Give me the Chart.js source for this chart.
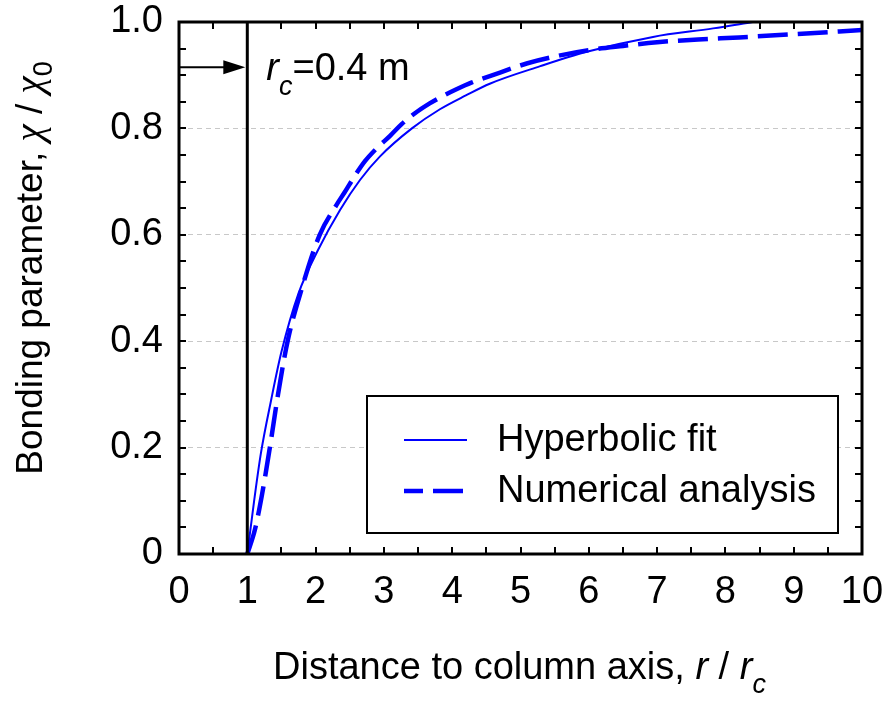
<!DOCTYPE html>
<html>
<head>
<meta charset="utf-8">
<script src="https://cdn.jsdelivr.net/npm/chart.js@4.4.1/dist/chart.umd.min.js"></script>
<style>
  html, body { margin: 0; padding: 0; background: #fff; }
  canvas { display: block; }
</style>
</head>
<body>
<canvas id="chart" width="887" height="702"></canvas>
<script>
// hyperbolic fit
const fitR   = [1, 1.1, 1.2, 1.35, 1.5, 1.75, 2.03, 2.36, 2.65, 2.94, 3.41, 3.82, 4.2, 4.55, 5.29, 5.97, 6.94, 7.82, 8.4];
const fitChi = [0, 0.10, 0.19, 0.29, 0.38, 0.49, 0.57, 0.647, 0.703, 0.747, 0.80, 0.836, 0.862, 0.884, 0.917, 0.944, 0.972, 0.988, 1.0];

// numerical analysis
const numR   = [1, 1.11, 1.21, 1.33, 1.45, 1.59, 1.8, 2.06, 2.3, 2.43, 2.58, 2.72, 2.89, 3.09, 3.26, 3.46, 3.67, 3.82, 4.07, 4.28, 4.7, 5.09, 5.5, 6, 6.5, 7, 7.6, 8.2, 9, 10];
const numChi = [0, 0.045, 0.108, 0.2, 0.3, 0.4, 0.5, 0.6, 0.655, 0.681, 0.712, 0.738, 0.762, 0.786, 0.808, 0.829, 0.847, 0.858, 0.874, 0.886, 0.905, 0.922, 0.935, 0.947, 0.955, 0.962, 0.967, 0.971, 0.977, 0.985];

const seriesNames = ['Hyperbolic fit', 'Numerical analysis'];
const xTicks = [0, 1, 2, 3, 4, 5, 6, 7, 8, 9, 10];
const yTicks = [0, 0.2, 0.4, 0.6, 0.8, 1.0];
const xMinorStep = 0.5;
const yMinorStep = 0.05;

const columnFace = 1;      // r / rc at the column edge
const arrowLevel = 0.915;  // height of the r_c arrow

const FONT = "'Liberation Sans', Arial, sans-serif";
const SERIF = "'Liberation Serif', 'Times New Roman', serif";
const BLUE = '#0000ff';

function toPoints(xs, ys) {
  return xs.map((x, i) => ({ x: x, y: ys[i] }));
}

// draw a row of text pieces with different fonts / offsets
function drawRuns(ctx, runs, x, y) {
  let cx = x;
  runs.forEach(r => {
    ctx.font = r.font;
    ctx.fillText(r.text, cx, y + (r.dy || 0));
    cx += ctx.measureText(r.text).width;
  });
}
function runsWidth(ctx, runs) {
  let w = 0;
  runs.forEach(r => { ctx.font = r.font; w += ctx.measureText(r.text).width; });
  return w;
}

const decor = {
  id: 'decor',
  afterDraw(chart) {
    const ctx = chart.ctx;
    const a = chart.chartArea;
    const xs = chart.scales.x, ys = chart.scales.y;
    ctx.save();
    ctx.strokeStyle = '#000';
    ctx.fillStyle = '#000';

    // inward tick marks on all four sides
    ctx.lineWidth = 2;
    ctx.beginPath();
    for (let v = xs.min; v <= xs.max + 1e-9; v += xMinorStep) {
      const px = Math.round(xs.getPixelForValue(v));
      ctx.moveTo(px, a.bottom); ctx.lineTo(px, a.bottom - 7);
      ctx.moveTo(px, a.top); ctx.lineTo(px, a.top + 7);
    }
    for (let v = ys.min; v <= ys.max + 1e-9; v += yMinorStep) {
      const py = Math.round(ys.getPixelForValue(v));
      ctx.moveTo(a.left, py); ctx.lineTo(a.left + 7, py);
      ctx.moveTo(a.right, py); ctx.lineTo(a.right - 7, py);
    }
    ctx.stroke();

    // frame
    ctx.lineWidth = 3;
    ctx.strokeRect(a.left, a.top, a.right - a.left, a.bottom - a.top);

    // column face line
    const cxp = xs.getPixelForValue(columnFace);
    ctx.beginPath();
    ctx.moveTo(cxp, a.bottom); ctx.lineTo(cxp, a.top);
    ctx.stroke();

    // arrow
    const ay = ys.getPixelForValue(arrowLevel);
    ctx.lineWidth = 2;
    ctx.beginPath();
    ctx.moveTo(a.left, ay); ctx.lineTo(cxp - 18, ay);
    ctx.stroke();
    ctx.beginPath();
    ctx.moveTo(cxp - 2, ay);
    ctx.lineTo(cxp - 24, ay - 7);
    ctx.lineTo(cxp - 24, ay + 7);
    ctx.closePath();
    ctx.fill();

    // r_c annotation
    ctx.textBaseline = 'alphabetic';
    ctx.textAlign = 'left';
    drawRuns(ctx, [
      { text: 'r', font: 'italic 38px ' + FONT },
      { text: 'c', font: 'italic 27px ' + FONT, dy: 15 },
      { text: '=0.4 m', font: '38px ' + FONT }
    ], cxp + 19, ay + 13);

    // legend
    const lx0 = 367, lx1 = a.right - 24, ly0 = 396, ly1 = a.bottom - 21;
    ctx.fillStyle = '#fff';
    ctx.fillRect(lx0, ly0, lx1 - lx0, ly1 - ly0);
    ctx.lineWidth = 2;
    ctx.strokeStyle = '#000';
    ctx.strokeRect(lx0, ly0, lx1 - lx0, ly1 - ly0);
    chart.data.datasets.forEach((ds, i) => {
      const yy = 440 + i * 51;
      ctx.strokeStyle = ds.borderColor;
      ctx.lineWidth = ds.borderWidth;
      ctx.setLineDash(ds.borderDash || []);
      ctx.lineDashOffset = ds.borderDash ? 11 : 0;
      ctx.beginPath();
      ctx.moveTo(404, yy); ctx.lineTo(467, yy);
      ctx.stroke();
      ctx.setLineDash([]);
      ctx.fillStyle = '#000';
      ctx.font = '38px ' + FONT;
      ctx.textBaseline = 'middle';
      ctx.fillText(ds.label, 497, yy + 1);
    });

    // x axis title
    ctx.fillStyle = '#000';
    ctx.textBaseline = 'alphabetic';
    drawRuns(ctx, [
      { text: 'Distance to column axis, ', font: '38px ' + FONT },
      { text: 'r', font: 'italic 38px ' + FONT },
      { text: ' / ', font: '38px ' + FONT },
      { text: 'r', font: 'italic 38px ' + FONT },
      { text: 'c', font: 'italic 27px ' + FONT, dy: 14 }
    ], 273, 679);

    // y axis title (rotated)
    const yRuns = [
      { text: 'Bonding parameter, ', font: '37px ' + FONT },
      { text: '\u03c7', font: 'italic 39px ' + SERIF },
      { text: ' / ', font: '37px ' + FONT },
      { text: '\u03c7', font: 'italic 39px ' + SERIF },
      { text: '0', font: '27px ' + FONT, dy: 10 }
    ];
    const w = runsWidth(ctx, yRuns);
    ctx.translate(42, 268);
    ctx.rotate(-Math.PI / 2);
    drawRuns(ctx, yRuns, -w / 2, 0);

    ctx.restore();
  }
};

new Chart(document.getElementById('chart'), {
  type: 'line',
  data: {
    datasets: [
      {
        label: seriesNames[0],
        data: toPoints(fitR, fitChi),
        borderColor: BLUE,
        borderWidth: 2,
        pointRadius: 0,
        cubicInterpolationMode: 'monotone',
        fill: false
      },
      {
        label: seriesNames[1],
        data: toPoints(numR, numChi),
        borderColor: BLUE,
        borderWidth: 4.5,
        borderDash: [30, 10],
        pointRadius: 0,
        cubicInterpolationMode: 'monotone',
        fill: false
      }
    ]
  },
  options: {
    responsive: false,
    animation: false,
    devicePixelRatio: 1,
    layout: { padding: { top: 22, right: 25, left: 0, bottom: 0 } },
    plugins: {
      legend: { display: false },
      tooltip: { enabled: false }
    },
    scales: {
      x: {
        type: 'linear',
        min: 0,
        max: 10,
        afterBuildTicks: s => { s.ticks = xTicks.map(v => ({ value: v })); },
        afterFit: s => { s.height = 148; s.paddingLeft = 0; s.paddingRight = 0; },
        ticks: {
          color: '#000',
          font: { family: FONT, size: 38 },
          padding: 8,
          maxRotation: 0,
          autoSkip: false
        },
        grid: { display: false },
        border: { display: false }
      },
      y: {
        type: 'linear',
        min: 0,
        max: 1,
        afterBuildTicks: s => { s.ticks = yTicks.map(v => ({ value: v })); },
        afterFit: s => { s.width = 179; s.paddingTop = 0; s.paddingBottom = 0; },
        ticks: {
          color: '#000',
          font: { family: FONT, size: 38 },
          padding: 16,
          autoSkip: false,
          callback: v => v === 0 ? '0' : v.toFixed(1)
        },
        grid: {
          drawTicks: false,
          lineWidth: 1,
          color: c => (c.tick && c.tick.value > 0 && c.tick.value < 1) ? '#c8c8c8' : 'rgba(0,0,0,0)'
        },
        border: { display: false, dash: [5, 4] }
      }
    }
  },
  plugins: [decor]
});
</script>
</body>
</html>
